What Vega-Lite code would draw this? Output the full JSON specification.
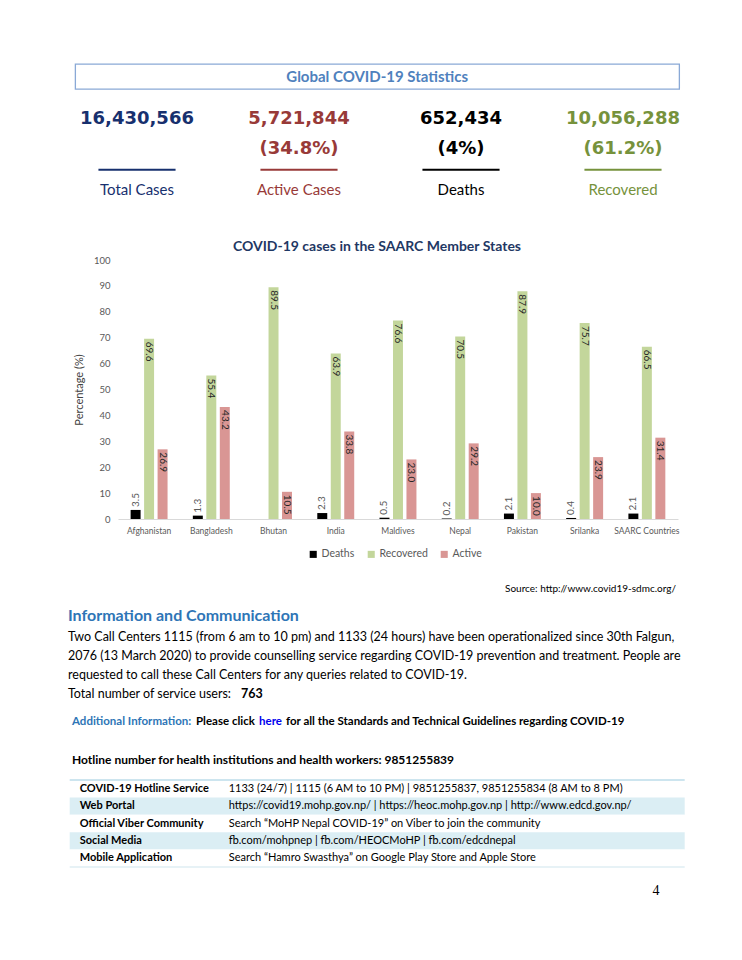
{
  "$schema": "https://vega.github.io/schema/vega-lite/v6.json",
  "background": "white",
  "padding": {"left": 54, "top": 63, "right": 0, "bottom": 0},
  "config": {"view": {"stroke": null}, "font": "Lato", "text": {"font": "Lato"}},
  "center": true,
  "spacing": 0,
  "resolve": {"scale": {"color": "independent"}, "legend": {"color": "independent"}},
  "vconcat": [
    {
      "width": 604,
      "height": 25,
      "view": {"stroke": "#8aa9d6", "strokeWidth": 1.3},
      "data": {"values": [{"title": "Global COVID-19 Statistics"}]},
      "mark": {"type": "text", "fontSize": 15, "fontWeight": "bold", "color": "#4f81bd"},
      "encoding": {"text": {"field": "title"}}
    },
    {
      "width": 647,
      "height": 150,
      "data": {"values": [
        {"cat": "Total Cases", "line": "num", "t": "16,430,566"},
        {"cat": "Total Cases", "line": "lab", "t": "Total Cases"},
        {"cat": "Active Cases", "line": "num", "t": "5,721,844"},
        {"cat": "Active Cases", "line": "pct", "t": "(34.8%)"},
        {"cat": "Active Cases", "line": "lab", "t": "Active Cases"},
        {"cat": "Deaths", "line": "num", "t": "652,434"},
        {"cat": "Deaths", "line": "pct", "t": "(4%)"},
        {"cat": "Deaths", "line": "lab", "t": "Deaths"},
        {"cat": "Recovered", "line": "num", "t": "10,056,288"},
        {"cat": "Recovered", "line": "pct", "t": "(61.2%)"},
        {"cat": "Recovered", "line": "lab", "t": "Recovered"}
      ]},
      "encoding": {
        "x": {"field": "cat", "type": "nominal", "scale": {"type": "band", "domain": ["Total Cases", "Active Cases", "Deaths", "Recovered"], "range": [2, 650], "paddingInner": 0, "paddingOuter": 0}, "axis": null},
        "color": {"field": "cat", "type": "nominal", "scale": {"domain": ["Total Cases", "Active Cases", "Deaths", "Recovered"], "range": ["#17306e", "#983a38", "#000000", "#76923c"]}, "legend": null}
      },
      "layer": [
        {
          "transform": [{"filter": "datum.line != 'lab'"}],
          "mark": {"type": "text", "font": "DejaVu Sans", "fontSize": 18, "fontWeight": "bold"},
          "encoding": {
            "y": {"field": "line", "type": "ordinal", "scale": {"type": "point", "domain": ["num", "s1", "s2", "pct", "s3", "line", "s4", "lab"], "range": [29, 100], "padding": 0}, "axis": null},
            "text": {"field": "t"}
          }
        },
        {
          "transform": [{"filter": "datum.line == 'lab'"}],
          "mark": {"type": "text", "fontSize": 15},
          "encoding": {
            "y": {"field": "line", "type": "ordinal"},
            "text": {"field": "t"}
          }
        },
        {
          "transform": [{"filter": "datum.line == 'lab'"}],
          "mark": {"type": "rule", "strokeWidth": 2},
          "encoding": {
            "x": {"field": "cat", "type": "nominal", "bandPosition": 0.262},
            "x2": {"field": "cat", "bandPosition": 0.738},
            "y": {"datum": "line", "type": "ordinal"}
          }
        }
      ]
    },
    {
      "width": 602,
      "height": 259,
      "title": {"text": "COVID-19 cases in the SAARC Member States", "fontSize": 14, "fontWeight": "bold", "color": "#1f3864", "anchor": "middle", "offset": 1},
      "data": {"values": [
        {"country": "Afghanistan", "series": "Deaths", "value": 3.5},
        {"country": "Afghanistan", "series": "Recovered", "value": 69.6},
        {"country": "Afghanistan", "series": "Active", "value": 26.9},
        {"country": "Bangladesh", "series": "Deaths", "value": 1.3},
        {"country": "Bangladesh", "series": "Recovered", "value": 55.4},
        {"country": "Bangladesh", "series": "Active", "value": 43.2},
        {"country": "Bhutan", "series": "Recovered", "value": 89.5},
        {"country": "Bhutan", "series": "Active", "value": 10.5},
        {"country": "India", "series": "Deaths", "value": 2.3},
        {"country": "India", "series": "Recovered", "value": 63.9},
        {"country": "India", "series": "Active", "value": 33.8},
        {"country": "Maldives", "series": "Deaths", "value": 0.5},
        {"country": "Maldives", "series": "Recovered", "value": 76.6},
        {"country": "Maldives", "series": "Active", "value": 23.0},
        {"country": "Nepal", "series": "Deaths", "value": 0.2},
        {"country": "Nepal", "series": "Recovered", "value": 70.5},
        {"country": "Nepal", "series": "Active", "value": 29.2},
        {"country": "Pakistan", "series": "Deaths", "value": 2.1},
        {"country": "Pakistan", "series": "Recovered", "value": 87.9},
        {"country": "Pakistan", "series": "Active", "value": 10.0},
        {"country": "Srilanka", "series": "Deaths", "value": 0.4},
        {"country": "Srilanka", "series": "Recovered", "value": 75.7},
        {"country": "Srilanka", "series": "Active", "value": 23.9},
        {"country": "SAARC Countries", "series": "Deaths", "value": 2.1},
        {"country": "SAARC Countries", "series": "Recovered", "value": 66.5},
        {"country": "SAARC Countries", "series": "Active", "value": 31.4}
      ]},
      "encoding": {
        "x": {
          "field": "country", "type": "nominal",
          "sort": ["Afghanistan", "Bangladesh", "Bhutan", "India", "Maldives", "Nepal", "Pakistan", "Srilanka", "SAARC Countries"],
          "scale": {"range": [42, 602], "paddingInner": 0.35, "paddingOuter": 0.175},
          "axis": {"title": null, "labelAngle": 0, "labelFontSize": 8.5, "labelColor": "#595959", "ticks": false, "domainColor": "#d9d9d9", "labelPadding": 7}
        },
        "xOffset": {"field": "series", "type": "nominal", "scale": {"domain": ["Deaths", "Recovered", "Active"], "paddingInner": 0.26, "paddingOuter": 0.13}},
        "y": {
          "field": "value", "type": "quantitative",
          "scale": {"domain": [0, 100]},
          "axis": {"title": "Percentage (%)", "offset": -42, "titleFontSize": 11, "titleFontWeight": "normal", "titleColor": "#404040", "labelFontSize": 9.5, "labelColor": "#595959", "grid": false, "ticks": false, "domain": false, "values": [0, 10, 20, 30, 40, 50, 60, 70, 80, 90, 100], "labelPadding": 8, "titlePadding": 9}
        }
      },
      "layer": [
        {
          "mark": {"type": "bar"},
          "encoding": {
            "color": {"field": "series", "type": "nominal", "scale": {"domain": ["Deaths", "Recovered", "Active"], "range": ["#000000", "#c3d69b", "#d99694"]},
              "legend": {"title": null, "orient": "none", "legendX": 232, "legendY": 289, "direction": "horizontal", "symbolType": "square", "symbolSize": 50, "symbolStrokeWidth": 0, "labelFontSize": 10.5, "labelColor": "#595959", "columnPadding": 11, "labelOffset": 3}}
          }
        },
        {
          "transform": [{"filter": "datum.series == 'Deaths'"}],
          "mark": {"type": "text", "angle": 270, "align": "left", "baseline": "middle", "dx": 3, "fontSize": 10, "color": "#595959"},
          "encoding": {"text": {"field": "value", "format": ".1f"}}
        },
        {
          "transform": [{"filter": "datum.series != 'Deaths'"}],
          "mark": {"type": "text", "angle": 90, "align": "left", "baseline": "middle", "dx": 3, "fontSize": 10, "color": "#262626"},
          "encoding": {"text": {"field": "value", "format": ".1f"}}
        }
      ]
    },
    {
      "width": 619,
      "height": 219,
      "data": {"values": [
        {"line": "source", "col": "right", "run": "main", "t": "Source:  http://www.covid19-sdmc.org/"},
        {"line": "heading", "col": "left", "run": "main", "t": "Information and Communication"},
        {"line": "p1", "col": "left", "run": "main", "t": "Two Call Centers 1115 (from 6 am to 10 pm) and 1133 (24 hours) have been operationalized since 30th Falgun,"},
        {"line": "p2", "col": "left", "run": "main", "t": "2076 (13 March 2020) to provide counselling service regarding COVID-19 prevention and treatment. People are"},
        {"line": "p3", "col": "left", "run": "main", "t": "requested to call these Call Centers for any queries related to COVID-19."},
        {"line": "p4", "col": "left", "run": "main", "t": "Total number of service users:"},
        {"line": "p4", "col": "left", "run": "count", "t": "763"},
        {"line": "additional", "col": "left", "run": "label", "t": "Additional Information:"},
        {"line": "additional", "col": "left", "run": "pre", "t": "Please click"},
        {"line": "additional", "col": "left", "run": "link", "t": "here"},
        {"line": "additional", "col": "left", "run": "post", "t": "for all the Standards and Technical Guidelines regarding COVID-19"},
        {"line": "hotline", "col": "left", "run": "main", "t": "Hotline number for health institutions and health workers: 9851255839"}
      ]},
      "encoding": {
        "x": {"field": "col", "type": "nominal", "scale": {"type": "point", "domain": ["left", "right"], "range": [0, 608], "padding": 0}, "axis": null},
        "y": {"field": "line", "type": "ordinal", "scale": {"type": "point", "domain": ["source", "g1", "g2", "heading", "g4", "p1", "g6", "p2", "g8", "p3", "g10", "p4", "g12", "g13", "additional", "g15", "g16", "g17", "hotline"], "range": [29, 200], "padding": 0}, "axis": null},
        "text": {"field": "t"}
      },
      "layer": [
        {"transform": [{"filter": "datum.line == 'source'"}], "mark": {"type": "text", "align": "right", "fontSize": 10, "color": "#000000"}},
        {"transform": [{"filter": "datum.line == 'heading'"}], "mark": {"type": "text", "align": "left", "fontSize": 16, "fontWeight": "bold", "color": "#2e75b6", "dy": -2}},
        {"transform": [{"filter": "(datum.line == 'p1' || datum.line == 'p2' || datum.line == 'p3' || datum.line == 'p4') && datum.run == 'main'"}], "mark": {"type": "text", "align": "left", "fontSize": 12.5, "color": "#000000"}},
        {"transform": [{"filter": "datum.run == 'count'"}], "mark": {"type": "text", "align": "left", "fontSize": 12.5, "fontWeight": "bold", "color": "#000000", "dx": 173}},
        {"transform": [{"filter": "datum.run == 'label'"}], "mark": {"type": "text", "align": "left", "fontSize": 11.5, "fontWeight": "bold", "color": "#2e75b6", "dx": 4}},
        {"transform": [{"filter": "datum.run == 'pre'"}], "mark": {"type": "text", "align": "left", "fontSize": 11.5, "fontWeight": "bold", "color": "#000000", "dx": 128}},
        {"transform": [{"filter": "datum.run == 'link'"}], "mark": {"type": "text", "align": "left", "fontSize": 11.5, "fontWeight": "bold", "color": "#0000ee", "dx": 191}},
        {"transform": [{"filter": "datum.run == 'post'"}], "mark": {"type": "text", "align": "left", "fontSize": 11.5, "fontWeight": "bold", "color": "#000000", "dx": 218}},
        {"transform": [{"filter": "datum.line == 'hotline'"}], "mark": {"type": "text", "align": "left", "fontSize": 12, "fontWeight": "bold", "color": "#000000", "dx": 4}}
      ]
    },
    {
      "width": 615,
      "height": 87,
      "data": {"values": [
        {"item": "COVID-19 Hotline Service", "value": "1133 (24/7) | 1115 (6 AM to 10 PM) | 9851255837, 9851255834 (8 AM to 8 PM)"},
        {"item": "Web Portal", "value": "https://covid19.mohp.gov.np/ | https://heoc.mohp.gov.np | http://www.edcd.gov.np/"},
        {"item": "Official Viber Community", "value": "Search \u201cMoHP Nepal COVID-19\u201d on Viber to join the community"},
        {"item": "Social Media", "value": "fb.com/mohpnep | fb.com/HEOCMoHP | fb.com/edcdnepal"},
        {"item": "Mobile Application", "value": "Search \u201cHamro Swasthya\u201d on Google Play Store and Apple Store"}
      ]},
      "encoding": {
        "y": {"field": "item", "type": "nominal", "sort": null, "scale": {"type": "band", "paddingInner": 0, "paddingOuter": 0}, "axis": null}
      },
      "layer": [
        {
          "mark": {"type": "rect"},
          "encoding": {
            "color": {"field": "item", "type": "nominal", "scale": {"domain": ["COVID-19 Hotline Service", "Web Portal", "Official Viber Community", "Social Media", "Mobile Application"], "range": ["#ffffff", "#dbeef4", "#ffffff", "#dbeef4", "#ffffff"]}, "legend": null}
          }
        },
        {
          "transform": [{"filter": "datum.item == 'COVID-19 Hotline Service'"}],
          "mark": {"type": "rule", "color": "#9ccbe0", "strokeWidth": 1.2},
          "encoding": {"y": {"field": "item", "type": "nominal", "sort": null, "bandPosition": 0}}
        },
        {
          "transform": [{"filter": "datum.item == 'Mobile Application'"}],
          "mark": {"type": "rule", "color": "#cfe5ee", "strokeWidth": 1.2},
          "encoding": {"y": {"field": "item", "type": "nominal", "sort": null, "bandPosition": 1}}
        },
        {
          "mark": {"type": "text", "align": "left", "fontSize": 11, "fontWeight": "bold", "color": "#000000"},
          "encoding": {
            "x": {"datum": "label", "type": "nominal", "scale": {"type": "point", "domain": ["label", "value"], "range": [10, 159], "padding": 0}, "axis": null},
            "text": {"field": "item"}
          }
        },
        {
          "mark": {"type": "text", "align": "left", "fontSize": 11, "color": "#000000"},
          "encoding": {
            "x": {"datum": "value", "type": "nominal"},
            "text": {"field": "value"}
          }
        }
      ]
    },
    {
      "width": 619,
      "height": 46,
      "data": {"values": [{"col": "page", "t": "4"}]},
      "mark": {"type": "text", "font": "Liberation Serif", "fontSize": 14, "color": "#000000"},
      "encoding": {
        "x": {"field": "col", "type": "nominal", "scale": {"type": "point", "domain": ["start", "page"], "range": [0, 588], "padding": 0}, "axis": null},
        "text": {"field": "t"}
      }
    }
  ]
}
